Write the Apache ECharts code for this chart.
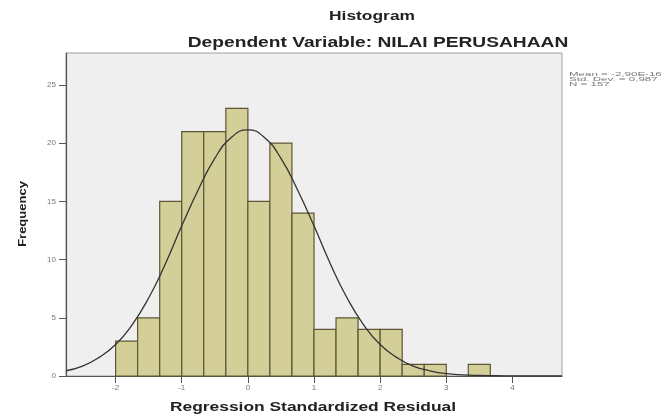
<!DOCTYPE html>
<html>
<head>
<meta charset="utf-8">
<script src="https://cdn.jsdelivr.net/npm/echarts@6/dist/echarts.min.js"></script>
<style>
  html, body { margin: 0; padding: 0; background: #fff; }
  #chart { width: 671px; height: 420px; }
</style>
</head>
<body>
<div id="chart"></div>
<script>
// histogram bins (lower edge), width 1/3
var binLo = [-2.000, -1.667, -1.333, -1.000, -0.667, -0.333, 0.000, 0.333, 0.667,
             1.000, 1.333, 1.667, 2.000, 2.333, 2.667, 3.000, 3.333];
var binWidth = 1 / 3;
var counts = [3, 5, 15, 21, 21, 23, 15, 20, 14, 4, 5, 4, 4, 1, 1, 0, 1];

// normal curve
var curveX = [-2.75, -2.5, -2.25, -2, -1.75, -1.5, -1.25, -1, -0.75, -0.5, -0.25, 0,
              0.25, 0.5, 0.75, 1, 1.25, 1.5, 1.75, 2, 2.25, 2.5, 2.75, 3, 3.25, 3.5,
              3.75, 4, 4.25, 4.5, 4.75];
var curveY = [0.45, 0.85, 1.6, 2.7, 4.4, 6.7, 9.6, 12.9, 16.0, 18.7, 20.5, 21.15,
              20.5, 18.7, 16.0, 12.9, 9.6, 6.7, 4.4, 2.7, 1.6, 0.85, 0.45, 0.2, 0.1, 0.05,
              0.02, 0.01, 0, 0, 0];

var xTicks = [-2, -1, 0, 1, 2, 3, 4];
var statLines = ['Mean = -2,90E-16', 'Std. Dev. = 0,987', 'N = 157'];

var barData = [];
for (var i = 0; i < binLo.length; i++) {
  if (counts[i] > 0) barData.push([binLo[i], binLo[i] + binWidth, counts[i]]);
}
var lineData = curveX.map(function (x, i) { return [x, curveY[i]]; });

// the source picture is stretched sideways, so text is widened with scaleX
function label(text, x, y, size, sx, extra) {
  var el = {
    type: 'text', x: x, y: y, scaleX: sx, z: 10,
    style: {
      text: text, fontSize: size, fontWeight: 'bold', fill: '#222',
      fontFamily: 'Liberation Sans', textAlign: 'center', textVerticalAlign: 'middle'
    }
  };
  for (var k in extra) el[k] = extra[k];
  return el;
}

var chart = echarts.init(document.getElementById('chart'));
chart.setOption({
  animation: false,
  backgroundColor: '#fff',
  textStyle: { fontFamily: 'Liberation Sans' },
  graphic: [
    label('Histogram', 372, 17, 12, 1.45),
    label('Dependent Variable: NILAI PERUSAHAAN', 378, 43, 14, 1.37),
    label('Regression Standardized Residual', 313, 408, 12, 1.45),
    label('Frequency', 23, 214, 10, 1.3, { rotation: Math.PI / 2 }),
    {
      type: 'text', x: 569, y: 72, scaleX: 2.1, z: 10,
      style: {
        text: statLines.join('\n'), fontSize: 5.5, lineHeight: 4.8, fill: '#777',
        fontFamily: 'Liberation Sans', textAlign: 'left', textVerticalAlign: 'top'
      }
    }
  ],
  grid: {
    left: 66, right: 109, top: 53, bottom: 44,
    show: true, backgroundColor: '#efeff0', borderColor: '#a0a0a0', borderWidth: 1
  },
  xAxis: {
    type: 'value', min: -2.75, max: 4.75,
    axisLine: { show: true, onZero: false, lineStyle: { color: '#555', width: 1.2 } },
    axisTick: { show: true, length: 7, customValues: xTicks, lineStyle: { color: '#555' } },
    axisLabel: { customValues: xTicks, fontSize: 8, color: '#777', margin: 8 },
    splitLine: { show: false }
  },
  yAxis: {
    type: 'value', min: 0, max: 27.75, interval: 5,
    axisLine: { show: true, onZero: false, lineStyle: { color: '#555', width: 1.2 } },
    axisTick: { show: true, length: 7, lineStyle: { color: '#555' } },
    axisLabel: { fontSize: 8, color: '#777', margin: 10, showMaxLabel: false },
    splitLine: { show: false }
  },
  series: [
    {
      type: 'custom',
      data: barData,
      encode: { x: [0, 1], y: 2 },
      renderItem: function (params, api) {
        var p0 = api.coord([api.value(0), api.value(2)]);
        var p1 = api.coord([api.value(1), 0]);
        return {
          type: 'rect',
          shape: { x: p0[0], y: p0[1], width: p1[0] - p0[0], height: p1[1] - p0[1] },
          style: { fill: '#d4cf98', stroke: '#5c5636', lineWidth: 1.2 }
        };
      }
    },
    {
      type: 'line',
      data: lineData,
      smooth: true,
      showSymbol: false,
      lineStyle: { color: '#333', width: 1.3 },
      z: 3
    }
  ]
});
</script>
</body>
</html>
